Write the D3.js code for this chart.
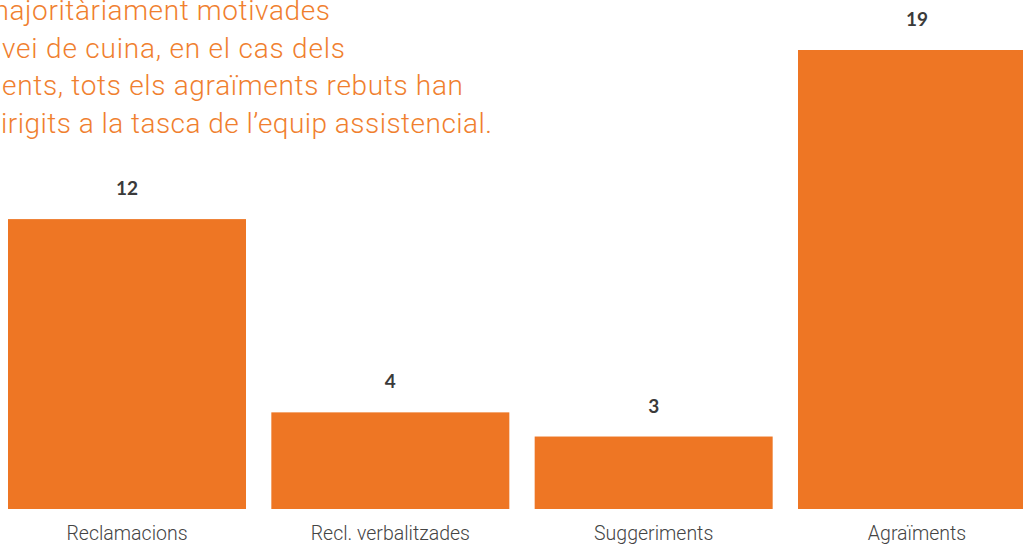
<!DOCTYPE html>
<html>
<head>
<meta charset="utf-8">
<script src="https://cdn.jsdelivr.net/npm/d3@7"></script>
<style>
  html, body { margin: 0; padding: 0; background: #fff; overflow: hidden; }
  svg { display: block; }
</style>
</head>
<body>
<svg id="chart" width="1023" height="547"></svg>
<script>
// Queixes, suggeriments i agraïments rebuts
const categories = ["Reclamacions", "Recl. verbalitzades", "Suggeriments", "Agraïments"];
const values = [12, 4, 3, 19];
const noteLines = [
  "majoritàriament motivades",
  "vei de cuina, en el cas dels",
  "ents, tots els agraïments rebuts han",
  "irigits a la tasca de l\u2019equip assistencial."
];
// left edge and set width of each note line
const noteStart = [-16, 2, 2, 1];
const noteWidth = [346, 343, 461, 491];

const barColor = "#EE7624";
const noteColor = "#F07F2F";

const svg = d3.select("#chart");

const x = d3.scaleBand()
  .domain(categories)
  .range([8, 1036])
  .paddingInner(0.0962)
  .paddingOuter(0);

const y = d3.scaleLinear()
  .domain([0, 19])
  .range([509, 50]);

// Bars
svg.append("g")
  .selectAll("rect")
  .data(values)
  .join("rect")
  .attr("x", (d, i) => x(categories[i]))
  .attr("y", d => y(d))
  .attr("width", x.bandwidth())
  .attr("height", d => y(0) - y(d))
  .attr("fill", barColor);

// Value labels
svg.append("g")
  .selectAll("text")
  .data(values)
  .join("text")
  .attr("x", (d, i) => x(categories[i]) + x.bandwidth() / 2)
  .attr("y", d => y(d) - 24)
  .attr("text-anchor", "middle")
  .attr("font-family", "Lato, 'Open Sans', sans-serif")
  .attr("font-weight", 700)
  .attr("font-size", 19)
  .attr("fill", "#3a3a3a")
  .text(d => d);

// Category axis (labels only)
const xAxis = d3.axisBottom(x).tickSize(0).tickPadding(0);
const axisG = svg.append("g")
  .attr("transform", "translate(0,526)")
  .call(xAxis);
axisG.select(".domain").remove();
axisG.selectAll("text")
  .attr("font-family", "Roboto, sans-serif")
  .attr("font-weight", 300)
  .attr("font-size", 19.5)
  .attr("fill", "#444");

// Note text
svg.append("g")
  .selectAll("text")
  .data(noteLines)
  .join("text")
  .attr("x", (d, i) => noteStart[i])
  .attr("y", (d, i) => 20 + i * 37.7)
  .attr("textLength", (d, i) => noteWidth[i])
  .attr("lengthAdjust", "spacing")
  .attr("font-family", "Roboto, sans-serif")
  .attr("font-weight", 300)
  .attr("font-size", 28)
  .attr("fill", noteColor)
  .text(d => d);
</script>
</body>
</html>
